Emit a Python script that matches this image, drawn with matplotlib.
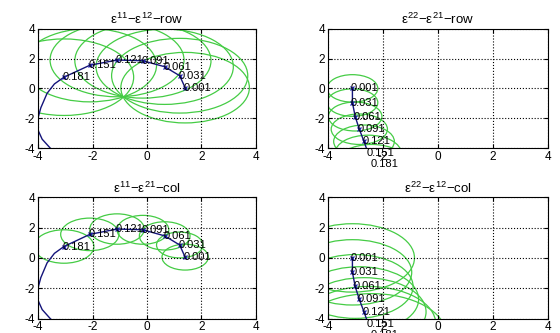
import matplotlib
matplotlib.use('Agg')
import matplotlib.pyplot as plt
from matplotlib.patches import Circle

plt.rcParams['font.family'] = ['Liberation Sans', 'DejaVu Sans']
plt.rcParams['mathtext.fontset'] = 'custom'
plt.rcParams['mathtext.rm'] = 'Liberation Sans'
plt.rcParams['mathtext.it'] = 'Liberation Sans'
plt.rcParams['axes.unicode_minus'] = False

labels = ['0.001', '0.031', '0.061', '0.091', '0.121', '0.151', '0.181']

# eigenvalue path of the 11 block (labelled points + unlabelled tail)
path11_x = [1.40, 1.20, 0.65, -0.15, -1.10, -2.10, -3.05]
path11_y = [0.05, 0.85, 1.45, 1.85, 1.90, 1.55, 0.75]
tail11_x = [-3.40, -3.67, -3.90, -4.02, -4.00, -3.85, -3.55, -3.30]
tail11_y = [0.30, -0.33, -1.30, -2.10, -2.80, -3.40, -4.00, -4.40]

# eigenvalue path of the 22 block
path22_x = [-3.10, -3.10, -3.00, -2.85, -2.68, -2.53, -2.40]
path22_y = [0.00, -0.95, -1.88, -2.73, -3.55, -4.33, -5.05]

# disc radii for each panel
radii_11_row = [2.36, 2.50, 2.52, 2.50, 2.46, 2.45, 2.56]
radii_22_row = [0.92, 0.92, 0.97, 1.02, 1.10, 1.20, 1.30]
radii_11_col = [0.85, 0.85, 0.93, 0.95, 1.00, 1.07, 1.10]
radii_22_col = [2.25, 2.15, 2.10, 2.15, 2.25, 2.45, 2.70]

panels = [
    (r'$\varepsilon^{11}$−$\varepsilon^{12}$−row', path11_x, path11_y, tail11_x, tail11_y,
     radii_11_row, [0.068, 0.555, 0.389, 0.359]),
    (r'$\varepsilon^{22}$−$\varepsilon^{21}$−row', path22_x, path22_y, [], [],
     radii_22_row, [0.585, 0.555, 0.394, 0.359]),
    (r'$\varepsilon^{11}$−$\varepsilon^{21}$−col', path11_x, path11_y, tail11_x, tail11_y,
     radii_11_col, [0.068, 0.043, 0.389, 0.365]),
    (r'$\varepsilon^{22}$−$\varepsilon^{12}$−col', path22_x, path22_y, [], [],
     radii_22_col, [0.585, 0.043, 0.394, 0.365]),
]

fig = plt.figure(figsize=(5.6, 3.33), dpi=100)

for title, px, py, tx, ty, radii, rect in panels:
    ax = fig.add_axes(rect)
    for cx, cy, r in zip(px, py, radii):
        ax.add_patch(Circle((cx, cy), r, fill=False, edgecolor='#45cc45', linewidth=0.9))
    ax.plot(px + tx, py + ty, color='#14147a', linewidth=1.0)
    ax.plot(px, py, linestyle='', marker='x', markersize=3.5, color='#1c1cb0', markeredgewidth=0.9)
    for x, y, lab in zip(px, py, labels):
        ax.text(x - 0.05, y, lab, fontsize=8, ha='left', va='center', clip_on=False)
    ax.set_xlim(-4, 4)
    ax.set_ylim(-4, 4)
    ax.set_xticks([-4, -2, 0, 2, 4])
    ax.set_yticks([-4, -2, 0, 2, 4])
    ax.grid(True, linestyle=':', color='black', linewidth=0.8)
    ax.tick_params(direction='in', length=3, labelsize=8.5, top=True, right=True, pad=2)
    ax.set_title(title, fontsize=9.5, pad=3)

fig.savefig('out.png', dpi=100)
